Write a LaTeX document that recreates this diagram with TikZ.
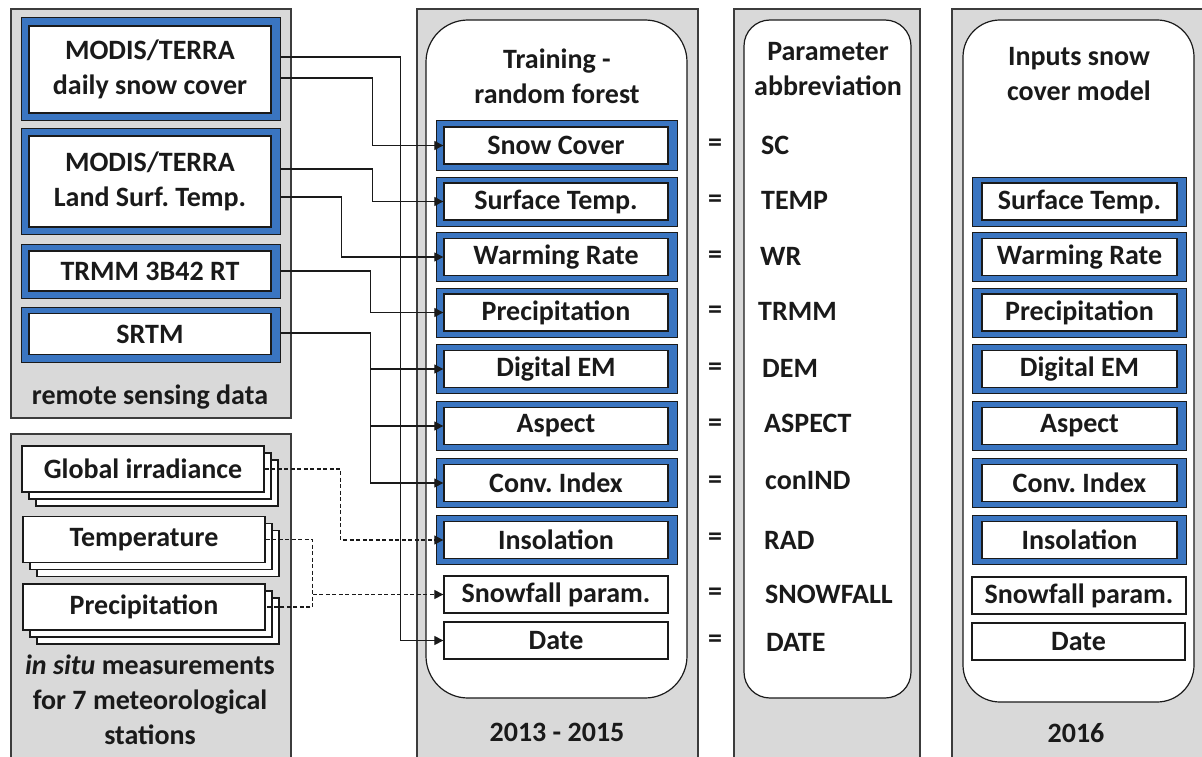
\documentclass[tikz,border=0pt]{standalone}
\usepackage{fontspec}
\setmainfont{Carlito}
\usetikzlibrary{arrows.meta}
\definecolor{panelgray}{HTML}{D9D9D9}
\definecolor{frameblue}{HTML}{3A75C1}
\definecolor{ink}{HTML}{1A1A1A}
\frenchspacing

\begin{document}
\begin{tikzpicture}[x=1pt,y=-1pt,
  every node/.style={font=\fontsize{28}{35}\selectfont\bfseries, text=ink, inner sep=0pt},
  panel/.style={draw=ink!85, fill=panelgray, line width=1.2pt},
  roundpanel/.style={draw=ink, fill=white, line width=1.2pt},
  framebox/.style={draw=ink, fill=frameblue, line width=1pt},
  cellbox/.style={draw=ink, fill=white, line width=1.3pt},
  trainframe/.style={framebox, minimum width=241pt, minimum height=49pt},
  traincell/.style={cellbox, minimum width=224pt, minimum height=37pt},
  inframe/.style={framebox, minimum width=214pt, minimum height=49pt},
  incell/.style={cellbox, minimum width=195pt, minimum height=37pt},
  stackbox/.style={draw=ink, fill=white, line width=1.5pt, minimum width=242pt, minimum height=46pt},
  tip/.style={-{Triangle[length=9pt,width=9pt]}},
  link/.style={draw=ink, line width=1.1pt, tip},
  dashlink/.style={draw=ink, line width=1.1pt, dash pattern=on 4pt off 2.5pt},
  abbr/.style={anchor=west}
]
\useasboundingbox (0,0) rectangle (1202,757);
\clip (0,0) rectangle (1202,757);

% ---------- column panels ----------
\draw[panel] (11,9) rectangle (291,418);
\draw[panel] (11,434) rectangle (291,775);
\draw[panel] (417,9) rectangle (698,775);
\draw[panel] (734,9) rectangle (920,775);
\draw[panel] (952,9) rectangle (1215,775);

\draw[roundpanel, rounded corners=42pt] (426,20) rectangle (687,698);
\draw[roundpanel, rounded corners=26pt] (744,20) rectangle (911,698);
\draw[roundpanel, rounded corners=37pt] (963,20) rectangle (1194,702);

% ---------- remote sensing data ----------
\node[framebox, minimum width=259pt, minimum height=103pt] (snowf) at (150.5,69.5) {};
\node[cellbox, minimum width=242pt, minimum height=87pt, align=center] (snow) at (150,69.5) {MODIS/TERRA\\daily snow cover};
\node[framebox, minimum width=259pt, minimum height=105pt] (lstf) at (150.5,181.5) {};
\node[cellbox, minimum width=242pt, minimum height=91pt, align=center] (lst) at (150,181.5) {MODIS/TERRA\\Land Surf. Temp.};
\node[framebox, minimum width=259pt, minimum height=54pt] (trmmf) at (150.5,271) {};
\node[cellbox, minimum width=242pt, minimum height=40pt] (trmm) at (150,271) {TRMM 3B42 RT};
\node[framebox, minimum width=259pt, minimum height=55pt] (srtmf) at (150.5,334.5) {};
\node[cellbox, minimum width=242pt, minimum height=41pt] (srtm) at (150,334) {SRTM};
\node (rsd) at (150,397) {remote sensing data};

% ---------- in situ measurements ----------
\node[stackbox] (gi3) at (157,483) {};
\node[stackbox] (gi2) at (150,476) {};
\node[stackbox] (gi) at (143,469) {Global irradiance};
\node[stackbox] (tp3) at (158,553.5) {};
\node[stackbox] (tp2) at (151,546.5) {};
\node[stackbox] (tp) at (144,539.5) {Temperature};
\node[stackbox] (pp3) at (158,621) {};
\node[stackbox] (pp2) at (151,614) {};
\node[stackbox] (pp) at (144,607) {Precipitation};
\node[align=center] (insitu) at (150,700) {{\itshape in situ} measurements\\for 7 meteorological\\stations};

% ---------- training - random forest ----------
\node[align=center] (trtitle) at (557,76) {Training -\\random forest};
\foreach \n/\y/\t in {sc/145.5/Snow Cover, st/201.5/Surface Temp., wr/257/Warming Rate,
    pr/312.5/Precipitation, dem/369/Digital EM, asp/426/Aspect, ci/483/Conv. Index,
    ins/540/Insolation} {
  \node[trainframe] (\n f) at (556.5,\y) {};
  \node[traincell] (\n) at (556,\y) {\t};
}
\node[traincell] (sf) at (556,594.5) {Snowfall param.};
\node[traincell] (dt) at (556,640.5) {Date};
\node (tryears) at (557,732) {2013 - 2015};

% ---------- parameter abbreviations ----------
\node[align=center] (abtitle) at (828,69) {Parameter\\abbreviation};
\foreach \n/\y/\x/\t in {a1/145/761/SC, a2/200/761/TEMP, a3/256/760/WR, a4/311/758/TRMM,
    a5/368/762/DEM, a6/423/764/ASPECT, a7/481/765/conIND, a8/540/764/RAD,
    a9/594/765/SNOWFALL, a10/642/766/DATE} {
  \node[abbr] (\n) at (\x,\y) {\t};
}
\foreach \y [count=\i] in {145,201,257,312,369,425,482,539,594,641} {
  \node (eq\i) at (715,\y) {=};
}

% ---------- inputs of the snow cover model ----------
\node[align=center] (intitle) at (1079,74) {Inputs snow\\cover model};
\foreach \n/\y/\t in {ist/201.5/Surface Temp., iwr/257/Warming Rate,
    ipr/312.5/Precipitation, idem/369/Digital EM, iasp/426/Aspect, ici/483/Conv. Index,
    iins/540/Insolation} {
  \node[inframe] (\n f) at (1079,\y) {};
  \node[incell] (\n) at (1079.5,\y) {\t};
}
\node[cellbox, minimum width=214pt, minimum height=37pt] (isf) at (1079,595.5) {Snowfall param.};
\node[cellbox, minimum width=213pt, minimum height=37pt] (idt) at (1078.5,641.5) {Date};
\node (inyears) at (1076,733) {2016};

% ---------- remote sensing connectors ----------
\draw[link] ([yshift=12.5pt]snowf.east) -- ++(120,0) |- (dt.west);
\draw[link] ([yshift=-8.5pt]snowf.east) -- ++(92,0) |- (sc.west);
\draw[link] ([yshift=12.5pt]lstf.east) -- ++(92,0) |- (st.west);
\draw[link] ([yshift=-15.5pt]lstf.east) -- ++(61,0) |- (wr.west);
\draw[link] (trmmf.east) -- ++(90,0) |- (pr.west);
\draw[link] ([yshift=1.5pt]srtmf.east) -- ++(90,0) |- (dem.west);
\draw[link] ([yshift=1.5pt]srtmf.east) -- ++(90,0) |- (asp.west);
\draw[link] ([yshift=1.5pt]srtmf.east) -- ++(90,0) |- (ci.west);

% ---------- in situ connectors ----------
\draw[dashlink, tip] (gi.east) -- ++(76,0) |- (ins.west);
\draw[dashlink] (tp.east) -- ++(47,0) |- (pp.east);
\coordinate (merge) at ([xshift=47pt]tp.east |- sf.west);
\draw[dashlink, tip] (merge) -- (sf.west);
\end{tikzpicture}
\end{document}
